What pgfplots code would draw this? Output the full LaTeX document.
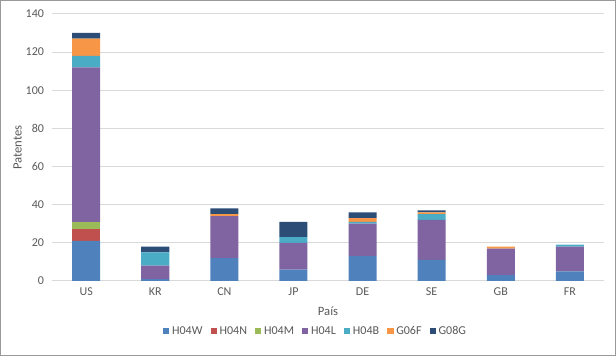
\documentclass[border=0pt]{standalone}
\usepackage{fontspec}
\setmainfont{Carlito}
\usepackage{pgfplots}
\usepackage{pgfplotstable}
\pgfplotsset{compat=1.18}
\definecolor{cW}{HTML}{4F81BD}
\definecolor{cN}{HTML}{C0504D}
\definecolor{cM}{HTML}{9BBB59}
\definecolor{cL}{HTML}{8064A2}
\definecolor{cB}{HTML}{4BACC6}
\definecolor{cF}{HTML}{F79646}
\definecolor{cG}{HTML}{2C4D75}
\definecolor{txt}{HTML}{595959}
\definecolor{grid}{HTML}{D9D9D9}
\pgfplotstableread{
x lab H04W H04N H04M H04L H04B G06F G08G
0 US 21 6 4 81 6 9 3
1 KR 1 0 0 7 7 0 3
2 CN 12 0 0 22 0 1 3
3 JP 6 0 0 14 3 0 8
4 DE 13 0 0 17 1 2 3
5 SE 11 0 0 21 3 1 1
6 GB 3 0 0 14 0 1 0
7 FR 5 0 0 13 1 0 0
}\data
\begin{document}
\fontsize{9}{11}\selectfont
\begin{tikzpicture}
\begin{axis}[
  scale only axis,
  width=414pt, height=200pt,
  ybar stacked, bar width=21pt,
  xmin=-0.5, xmax=7.5, ymin=0, ymax=140,
  ytick={0,20,...,140},
  xtick=data,
  xticklabels from table={\data}{lab},
  axis x line*=bottom, axis y line*=left,
  x axis line style={draw=grid, line width=0.8pt},
  y axis line style={draw=none},
  ymajorgrids, grid style={draw=grid, line width=0.8pt},
  major tick length=0pt,
  ticklabel style={font=\fontsize{9}{11}\selectfont, text=txt},
  /pgf/number format/assume math mode=true,
  yticklabel style={xshift=-2.5pt},
  xticklabel style={yshift=-2pt},
  xlabel={País}, ylabel={Patentes},
  label style={font=\fontsize{9.5}{11}\selectfont, text=txt},
  xlabel style={at={(axis description cs:0.5,-0.112)}, anchor=center},
  ylabel style={at={(axis description cs:-0.0616,0.5)}, anchor=center},
  legend style={at={(axis description cs:0.478,-0.1875)}, anchor=center,
    draw=none, font=\fontsize{9}{11}\selectfont, text=txt,
    /tikz/every even column/.append style={column sep=4pt},
    /tikz/every odd column/.append style={column sep=0pt}},
  legend columns=-1,
  legend image code/.code={\fill[#1] (0pt,-2.4pt) rectangle (4.8pt,2.4pt);},
  every axis plot/.append style={draw=none},
  clip=false,
]
\addplot[fill=cW] table[x=x,y=H04W]{\data};
\addplot[fill=cN] table[x=x,y=H04N]{\data};
\addplot[fill=cM] table[x=x,y=H04M]{\data};
\addplot[fill=cL] table[x=x,y=H04L]{\data};
\addplot[fill=cB] table[x=x,y=H04B]{\data};
\addplot[fill=cF] table[x=x,y=G06F]{\data};
\addplot[fill=cG] table[x=x,y=G08G]{\data};
\legend{H04W,H04N,H04M,H04L,H04B,G06F,G08G}
\coordinate (O) at (rel axis cs:0,0);
\end{axis}
\draw[gray!80, line width=0.8pt] ([shift={(-38.25pt,-55.5pt)}]O) rectangle ([shift={(422.25pt,210pt)}]O);
\useasboundingbox ([shift={(-38.25pt,-55.5pt)}]O) rectangle ([shift={(422.25pt,210pt)}]O);
\end{tikzpicture}
\end{document}
